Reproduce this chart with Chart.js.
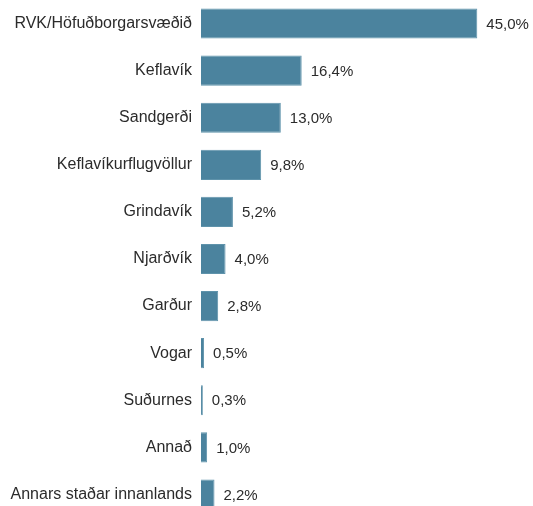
<!DOCTYPE html>
<html>
<head>
<meta charset="utf-8">
<script src="https://cdn.jsdelivr.net/npm/chart.js@4/dist/chart.umd.min.js"></script>
<style>
  html, body { margin: 0; padding: 0; background: #fff; overflow: hidden; }
  #wrap { width: 533px; height: 518px; position: relative; }
</style>
</head>
<body>
<div id="wrap"><canvas id="chart"></canvas></div>
<script>
const categories = [
  'RVK/Höfuðborgarsvæðið', 'Keflavík', 'Sandgerði', 'Keflavíkurflugvöllur',
  'Grindavík', 'Njarðvík', 'Garður', 'Vogar', 'Suðurnes', 'Annað',
  'Annars staðar innanlands'
];
const shares = [45.0, 16.4, 13.0, 9.8, 5.2, 4.0, 2.8, 0.5, 0.3, 1.0, 2.2];

const fmt = v => v.toFixed(1).replace('.', ',') + '%';

// value labels to the right of each bar
const valueLabels = {
  id: 'valueLabels',
  afterDatasetsDraw(chart) {
    const { ctx } = chart;
    const meta = chart.getDatasetMeta(0);
    ctx.save();
    ctx.font = '15px "Liberation Sans", Arial, sans-serif';
    ctx.fillStyle = '#2b2b2b';
    ctx.textAlign = 'left';
    ctx.textBaseline = 'middle';
    meta.data.forEach((bar, i) => {
      ctx.fillText(fmt(shares[i]), bar.x + 9, bar.y + 1);
    });
    ctx.restore();
  }
};

new Chart(document.getElementById('chart'), {
  type: 'bar',
  data: {
    labels: categories,
    datasets: [{
      data: shares,
      backgroundColor: '#4b839e',
      borderColor: '#5f93ab',
      borderWidth: 1,
      barPercentage: 0.64,
      categoryPercentage: 1
    }]
  },
  options: {
    indexAxis: 'y',
    responsive: true,
    maintainAspectRatio: false,
    animation: false,
    layout: { padding: { top: 0, bottom: 0, left: 0, right: 25 } },
    plugins: { legend: { display: false }, tooltip: { enabled: false } },
    scales: {
      x: { display: false, min: 0, max: 50 },
      y: {
        grid: { display: false, drawTicks: false },
        border: { display: false },
        ticks: {
          padding: 9,
          color: '#2b2b2b',
          font: { family: '"Liberation Sans", Arial, sans-serif', size: 16 }
        },
        afterFit: scale => {
          scale.width = 201;
          scale.paddingTop = 0;
          scale.paddingBottom = 0;
        }
      }
    }
  },
  plugins: [valueLabels]
});
</script>
</body>
</html>
